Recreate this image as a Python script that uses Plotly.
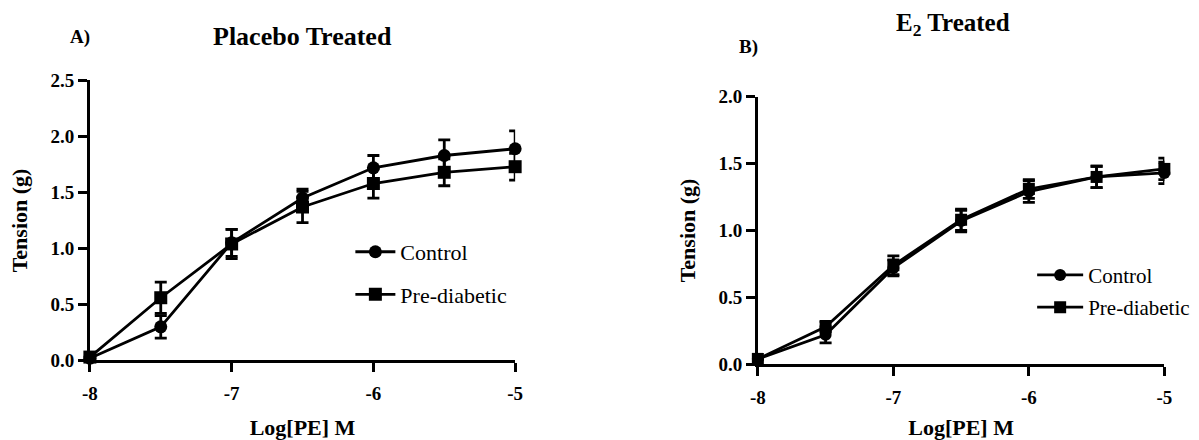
import plotly.graph_objects as go

# ---- data ----
log_pe = [-8, -7.5, -7, -6.5, -6, -5.5, -5]
x_ticks = [-8, -7, -6, -5]

# Panel A: Placebo treated
a_control = [0.02, 0.30, 1.05, 1.45, 1.72, 1.83, 1.89]
a_control_err = [0.0, 0.10, 0.12, 0.08, 0.11, 0.14, 0.16]
a_prediab = [0.03, 0.56, 1.04, 1.37, 1.58, 1.68, 1.73]
a_prediab_err = [0.0, 0.14, 0.13, 0.14, 0.13, 0.12, 0.12]
a_yticks = [0.0, 0.5, 1.0, 1.5, 2.0, 2.5]

# Panel B: E2 treated
b_control = [0.04, 0.22, 0.72, 1.07, 1.29, 1.40, 1.43]
b_control_err = [0.0, 0.06, 0.06, 0.08, 0.08, 0.08, 0.08]
b_prediab = [0.04, 0.28, 0.74, 1.08, 1.31, 1.40, 1.46]
b_prediab_err = [0.0, 0.04, 0.07, 0.08, 0.07, 0.08, 0.08]
b_yticks = [0.0, 0.5, 1.0, 1.5, 2.0]

W, H = 1199, 440
FONT = "Liberation Serif, Times New Roman, Times, serif"
LW = 2.8

fig = go.Figure()

def add_series(x, y, err, name, symbol, xa, ya, legend, group, msize):
    fig.add_trace(go.Scatter(
        x=x, y=y, name=name, mode="lines+markers",
        xaxis=xa, yaxis=ya, legend=legend, legendgroup=group,
        line=dict(color="black", width=LW),
        marker=dict(symbol=symbol, size=msize, color="black"),
        error_y=dict(type="data", array=err, visible=True, color="black",
                     thickness=LW, width=6),
        cliponaxis=False,
    ))

add_series(log_pe, a_control, a_control_err, "Control", "circle", "x", "y", "legend", "a1", 13)
add_series(log_pe, a_prediab, a_prediab_err, "Pre-diabetic", "square", "x", "y", "legend", "a2", 13)
add_series(log_pe, b_control, b_control_err, "Control", "circle", "x2", "y2", "legend2", "b1", 12)
add_series(log_pe, b_prediab, b_prediab_err, "Pre-diabetic", "square", "x2", "y2", "legend2", "b2", 12)

def px_x(p):
    return p / W

def px_y(p):
    return 1 - p / H

axis_common = dict(
    showline=True, linecolor="black", linewidth=LW,
    ticks="outside", tickcolor="black", tickwidth=LW, ticklen=9,
    showgrid=False, zeroline=False,
    tickfont=dict(family=FONT, size=19, color="black", weight="bold"),
    title_font=dict(family=FONT, size=22, color="black", weight="bold"),
)

fig.update_layout(
    width=W, height=H,
    margin=dict(l=0, r=0, t=0, b=0),
    paper_bgcolor="white", plot_bgcolor="white",
    font=dict(family=FONT, color="black"),
    xaxis=dict(domain=[px_x(83), px_x(514)], range=[-8, -5], tickvals=x_ticks,
               ticktext=[str(v) for v in x_ticks], anchor="y", ticklabelstandoff=5,
               title=dict(text="Log[PE] M", standoff=18), **axis_common),
    yaxis=dict(domain=[px_y(368), px_y(74)], range=[0, 2.5], tickvals=a_yticks,
               ticktext=[f"{v:.1f}" for v in a_yticks], anchor="x",
               title=dict(text="Tension (g)", standoff=17), **axis_common),
    xaxis2=dict(domain=[px_x(760), px_x(1172)], range=[-8, -5], tickvals=x_ticks,
                ticktext=[str(v) for v in x_ticks], anchor="y2", ticklabelstandoff=5,
                title=dict(text="Log[PE] M", standoff=14), **axis_common),
    yaxis2=dict(domain=[px_y(372), px_y(91)], range=[0, 2.0], tickvals=b_yticks,
                ticktext=[f"{v:.1f}" for v in b_yticks], anchor="x2",
                title=dict(text="Tension (g)", standoff=17), **axis_common),
    legend=dict(x=px_x(347), y=px_y(232), xanchor="left", yanchor="top",
                font=dict(family=FONT, size=22, color="black"),
                bgcolor="rgba(0,0,0,0)", tracegroupgap=11, itemwidth=40),
    legend2=dict(x=px_x(1038), y=px_y(257), xanchor="left", yanchor="top",
                 font=dict(family=FONT, size=21, color="black"),
                 bgcolor="rgba(0,0,0,0)", tracegroupgap=2, itemwidth=46),
    showlegend=True,
)

fig.add_annotation(text="<b>Placebo Treated</b>", x=px_x(298), y=px_y(28),
                   xref="paper", yref="paper", showarrow=False,
                   xanchor="center", yanchor="middle",
                   font=dict(family=FONT, size=26, color="black"))
fig.add_annotation(text="<b>A)</b>", x=px_x(73), y=px_y(28),
                   xref="paper", yref="paper", showarrow=False,
                   xanchor="center", yanchor="middle",
                   font=dict(family=FONT, size=19, color="black"))
fig.add_annotation(text="<b>E<sub>2</sub> Treated</b>", x=px_x(958), y=px_y(15),
                   xref="paper", yref="paper", showarrow=False,
                   xanchor="center", yanchor="middle",
                   font=dict(family=FONT, size=25, color="black"))
fig.add_annotation(text="<b>B)</b>", x=px_x(751), y=px_y(39),
                   xref="paper", yref="paper", showarrow=False,
                   xanchor="center", yanchor="middle",
                   font=dict(family=FONT, size=19, color="black"))

fig.write_html("out.html")
